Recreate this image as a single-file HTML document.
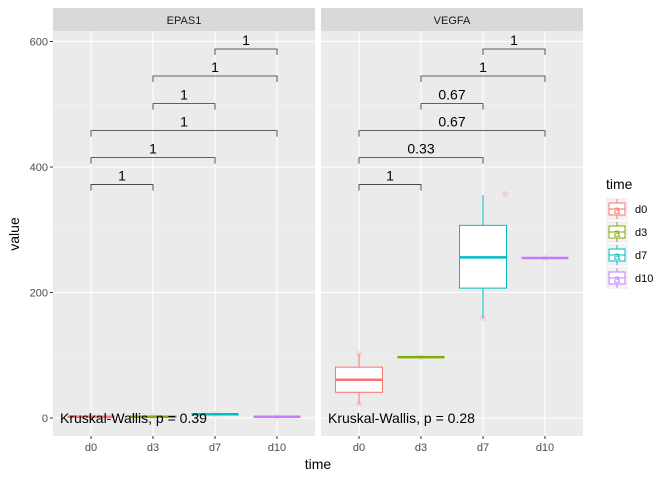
<!DOCTYPE html>
<html><head><meta charset="utf-8"><style>
body{margin:0;background:#fff;font-family:"Liberation Sans",sans-serif}
</style></head><body>
<svg id="chart" width="672" height="480" xmlns="http://www.w3.org/2000/svg" font-family="Liberation Sans, sans-serif"></svg>
<script>
const genes = ["EPAS1","VEGFA"];
const categories = ["d0","d3","d7","d10"];
const colors = ["#F8766D","#7CAE00","#00BFC4","#C77CFF"];
const yTicks = [0,200,400,600];
// box stats per gene: [lowWhisker, q1, median, q3, highWhisker]
const epasStats = [[2,2,2,2,2],[2,2,2,2,2],[6,6,6,6,6],[2,2,2,2,2]];
const vegfaStats = [[22,41,61,81,102],[97,97,97,97,97],[159,207,256,307,355],[255,255,255,255,255]];
const vegfaPoints = [[0,102],[0,22],[1,97],[2,357],[2,159],[3,255]];
const epasPoints = [[0,2],[1,2],[2,6],[3,2]];
const bracketPairs = [[0,1],[0,2],[0,3],[1,2],[1,3],[2,3]];
const bracketY = [372,415,458,501,545,588];
const epasLabels = ["1","1","1","1","1","1"];
const vegfaLabels = ["1","0.33","0.67","0.67","1","1"];
const kwLabels = ["Kruskal-Wallis, p = 0.39","Kruskal-Wallis, p = 0.28"];

const svg = document.getElementById('chart');
const NS = "http://www.w3.org/2000/svg";
function mk(tag, attrs, parent){const e=document.createElementNS(NS,tag);for(const k in attrs)e.setAttribute(k,attrs[k]);(parent||svg).appendChild(e);return e;}
const panels=[{x0:53,x1:315},{x0:321,x1:583}];
const plotTop=31,plotBottom=436;
function y(v){return 418 - v*0.6275;}
function xc(p,i){return panels[p].x0+38+i*62;}

panels.forEach((P,p)=>{
  const g=mk('g',{});
  
  
  mk('rect',{x:P.x0,y:plotTop,width:P.x1-P.x0,height:plotBottom-plotTop,fill:'#EBEBEB'},g);
  mk('rect',{x:P.x0,y:8,width:P.x1-P.x0,height:23,fill:'#D9D9D9'},g);
  const st=mk('text',{x:(P.x0+P.x1)/2,y:24,'text-anchor':'middle','font-size':11,fill:'#1A1A1A'},g);
  st.textContent=genes[p];
  
  
  [100,300,500].forEach(v=>mk('line',{x1:P.x0,x2:P.x1,y1:y(v),y2:y(v),stroke:'#F5F5F5','stroke-width':0.6},g));
  yTicks.forEach(v=>mk('line',{x1:P.x0,x2:P.x1,y1:y(v),y2:y(v),stroke:'#fff','stroke-width':1.1},g));
  categories.forEach((c,i)=>{
    mk('line',{x1:xc(p,i),x2:xc(p,i),y1:plotTop,y2:plotBottom,stroke:'#fff','stroke-width':1.1},g);
    mk('line',{x1:xc(p,i),x2:xc(p,i),y1:plotBottom,y2:plotBottom+3,stroke:'#333'},g);
    const t=mk('text',{x:xc(p,i),y:plotBottom+15,'text-anchor':'middle','font-size':11,fill:'#4D4D4D'},g);
    t.textContent=c;
    
    
  });
  const stats=p===0?epasStats:vegfaStats;
  const pts=p===0?epasPoints:vegfaPoints;
  pts.forEach(([i,v])=>{const c=mk('circle',{cx:xc(p,i)+(i===2&&v>300?22:0),cy:y(v),r:3,fill:'#F8766D','fill-opacity':0.2},g);
    
    });
  stats.forEach((s,i)=>{
    const cx=xc(p,i),w=47,col=colors[i];
    const b=mk('g',{},g);
    
    
    mk('line',{x1:cx,x2:cx,y1:y(s[0]),y2:y(s[1]),stroke:col,'stroke-width':1},b);
    mk('line',{x1:cx,x2:cx,y1:y(s[3]),y2:y(s[4]),stroke:col,'stroke-width':1},b);
    mk('rect',{x:cx-w/2,y:y(s[3]),width:w,height:Math.max(0,y(s[1])-y(s[3])),fill:'#fff',stroke:col,'stroke-width':1},b);
    mk('line',{x1:cx-w/2,x2:cx+w/2,y1:y(s[2]),y2:y(s[2]),stroke:col,'stroke-width':2.5},b);
  });
  const labs=p===0?epasLabels:vegfaLabels;
  bracketPairs.forEach(([a,b],k)=>{
    const yy=y(bracketY[k]),xa=xc(p,a),xb=xc(p,b);
    const br=mk('path',{d:`M${xa},${yy+6}V${yy}H${xb}V${yy+6}`,fill:'none',stroke:'#333','stroke-width':0.8},g);
    
    
    const t=mk('text',{x:(xa+xb)/2,y:yy-4,'text-anchor':'middle','font-size':14,fill:'#000'},g);
    t.textContent=labs[k];
    
    
  });
  const kw=mk('text',{x:P.x0+7,y:423,'font-size':14,fill:'#000'},g);
  kw.textContent=kwLabels[p];
  
  
});
yTicks.forEach(v=>{
  mk('line',{x1:50,x2:53,y1:y(v),y2:y(v),stroke:'#333'});
  const t=mk('text',{x:48,y:y(v)+4,'text-anchor':'end','font-size':11,fill:'#4D4D4D'});
  t.textContent=v;
  
  
});
const xt=mk('text',{x:318,y:469,'text-anchor':'middle','font-size':14});xt.textContent='time';


const yt=mk('text',{x:19,y:234,'text-anchor':'middle','font-size':14,transform:'rotate(-90 19 234)'});yt.textContent='value';


const lg=mk('g',{});


const lt=mk('text',{x:606,y:189,'font-size':14},lg);lt.textContent='time';
categories.forEach((c,i)=>{
  const ky=198+i*23;
  const e=mk('g',{},lg);
  
  
  mk('rect',{x:606,y:ky,width:22,height:22,fill:'#F2F2F2'},e);
  mk('line',{x1:617,x2:617,y1:ky+1,y2:ky+21,stroke:colors[i]},e);
  mk('rect',{x:609,y:ky+5,width:16,height:12,fill:'#fff',stroke:colors[i]},e);
  mk('line',{x1:609,x2:625,y1:ky+11,y2:ky+11,stroke:colors[i]},e);
  const a=mk('text',{x:617,y:ky+16,'text-anchor':'middle','font-size':12,fill:colors[i]},e);a.textContent='a';
  const t=mk('text',{x:635,y:ky+15,'font-size':11},e);t.textContent=c;
});
</script>
</body></html>
